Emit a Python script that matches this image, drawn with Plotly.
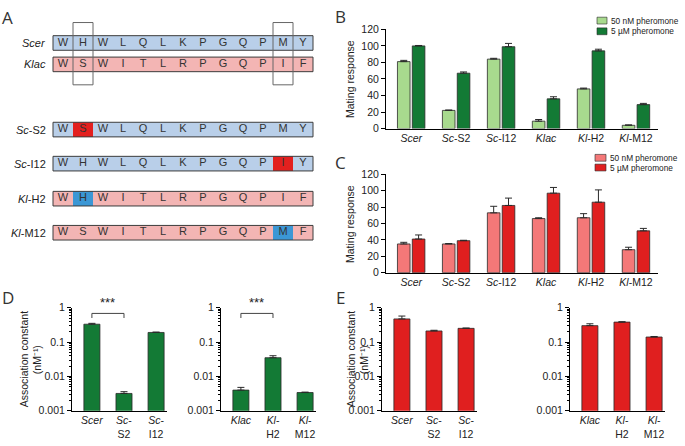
import plotly.graph_objects as go

W, H = 685, 446

# ---------------- data ----------------
# Panel A: peptide sequences
row_names = ["Scer", "Klac", "Sc-S2", "Sc-I12", "Kl-H2", "Kl-M12"]
seq_scer = list("WHWLQLKPGQPMY")
seq_klac = list("WSWITLRPGQPIF")
seq_sc_s2 = list("WSWLQLKPGQPMY")
seq_sc_i12 = list("WHWLQLKPGQPIY")
seq_kl_h2 = list("WHWITLRPGQPIF")
seq_kl_m12 = list("WSWITLRPGQPMF")
boxed_positions = [2, 12]  # 1-based residues that differ

# Panels B/C: mating response
strains = ["Scer", "Sc-S2", "Sc-I12", "Klac", "Kl-H2", "Kl-M12"]
legend_labels = ["50 nM pheromone", "5 µM pheromone"]
b_low = [81, 22, 84, 9, 48, 4]
b_low_err = [1.5, 0.5, 1, 2, 1, 0.5]
b_high = [100, 67, 99, 36, 94, 29]
b_high_err = [0.5, 1.5, 4, 2.5, 2, 1.5]
c_low = [35, 35, 73, 66, 67, 28]
c_low_err = [2, 0.5, 8, 1, 5, 3]
c_high = [41, 39, 82, 97, 86, 51]
c_high_err = [5, 0.5, 9, 7, 15, 3]

# Panels D/E: association constants (nM^-1)
sc_strains = ["Scer", "Sc-S2", "Sc-I12"]
kl_strains = ["Klac", "Kl-H2", "Kl-M12"]
d_sc = [0.33, 0.0032, 0.19]
d_sc_err = [0.02, 0.0004, 0.005]
d_kl = [0.004, 0.035, 0.0034]
d_kl_err = [0.0008, 0.005, 0.0001]
e_sc = [0.47, 0.21, 0.25]
e_sc_err = [0.1, 0.01, 0.005]
e_kl = [0.30, 0.38, 0.14]
e_kl_err = [0.04, 0.01, 0.005]
sig_label = "***"

# ---------------- style ----------------
FONT = "Liberation Sans, Arial, sans-serif"
LETTER_FONT = "Open Sans, sans-serif"
TXT = "#222222"
OUT = "#2a2a2a"
G_LIGHT = "#a8da8e"
G_DARK = "#137a35"
R_LIGHT = "#f47878"
R_DARK = "#e01f1f"
SC_ROW = "#b9cfe9"
KL_ROW = "#f3b5b4"
SC_HI = "#3b97d5"
KL_HI = "#e3201f"


def fmt(name, wrap=False):
    if "-" in name:
        pre, post = name.split("-")
        return f"<i>{pre}</i>-" + ("<br>" if wrap else "") + post
    return f"<i>{name}</i>"


def xd(a, b):
    return [a / W, b / W]


def yd(top, bottom):
    return [1 - bottom / H, 1 - top / H]


def px(x):
    return x / W


def py(y):
    return 1 - y / H


fig = go.Figure()

# ---------------- panels B / C ----------------
cat_bc = [fmt(s) for s in strains]


def err(arr):
    return dict(type="data", array=arr, arrayminus=[0] * len(arr), symmetric=False,
                color=OUT, thickness=1, width=3.5)


for (lo, lo_e, hi, hi_e, cl, ch, xa, ya) in [
    (b_low, b_low_err, b_high, b_high_err, G_LIGHT, G_DARK, "x", "y"),
    (c_low, c_low_err, c_high, c_high_err, R_LIGHT, R_DARK, "x2", "y2"),
]:
    fig.add_trace(go.Bar(x=cat_bc, y=lo, name=legend_labels[0], showlegend=False,
                         marker=dict(color=cl, line=dict(color=OUT, width=0.8)),
                         error_y=err(lo_e), xaxis=xa, yaxis=ya))
    fig.add_trace(go.Bar(x=cat_bc, y=hi, name=legend_labels[1], showlegend=False,
                         marker=dict(color=ch, line=dict(color=OUT, width=0.8)),
                         error_y=err(hi_e), xaxis=xa, yaxis=ya))

# ---------------- panels D / E ----------------
for (cats, vals, errs, col, xa, ya) in [
    (sc_strains, d_sc, d_sc_err, G_DARK, "x3", "y3"),
    (kl_strains, d_kl, d_kl_err, G_DARK, "x4", "y4"),
    (sc_strains, e_sc, e_sc_err, R_DARK, "x5", "y5"),
    (kl_strains, e_kl, e_kl_err, R_DARK, "x6", "y6"),
]:
    fig.add_trace(go.Bar(x=[fmt(c, True) for c in cats], y=vals, width=0.5, showlegend=False,
                         marker=dict(color=col, line=dict(color=OUT, width=0.8)),
                         error_y=err(errs), xaxis=xa, yaxis=ya))

# significance brackets (D)
for cats, xa, ya in [(sc_strains, "x3", "y3"), (kl_strains, "x4", "y4")]:
    c0, c1 = fmt(cats[0], True), fmt(cats[1], True)
    fig.add_trace(go.Scatter(x=[c0, c0, c1, c1], y=[0.5, 0.68, 0.68, 0.5], mode="lines",
                             line=dict(color="#444", width=1), cliponaxis=False,
                             showlegend=False, hoverinfo="skip", xaxis=xa, yaxis=ya))
    fig.add_annotation(x=0.5, y=py(305), xref=xa, yref="paper", text=sig_label,
                       showarrow=False, xanchor="center", yanchor="middle",
                       font=dict(family=FONT, size=13, color=TXT))

# ---------------- panel A ----------------
seqs = [seq_scer, seq_klac, seq_sc_s2, seq_sc_i12, seq_kl_h2, seq_kl_m12]
parents = [None, None, seq_scer, seq_scer, seq_klac, seq_klac]
row_y = [38, 60, 127, 162, 198, 233]
row_h = 15
shapes = []
for name, seq, parent, yc in zip(row_names, seqs, parents, row_y):
    is_sc = name.startswith("Sc")
    fill = SC_ROW if is_sc else KL_ROW
    hi = KL_HI if is_sc else SC_HI
    y0, y1 = yc - row_h / 2, yc + row_h / 2
    shapes.append(dict(type="rect", xref="x7", yref="y7", x0=0, x1=len(seq), y0=y0, y1=y1,
                       fillcolor=fill, line=dict(width=0), layer="below"))
    if parent is not None:
        for i, (a, b) in enumerate(zip(seq, parent)):
            if a != b:
                shapes.append(dict(type="rect", xref="x7", yref="y7", x0=i, x1=i + 1, y0=y0, y1=y1,
                                   fillcolor=hi, line=dict(width=0), layer="below"))
    shapes.append(dict(type="rect", xref="x7", yref="y7", x0=0, x1=len(seq), y0=y0, y1=y1,
                       fillcolor="rgba(0,0,0,0)", line=dict(color="#3c3c3c", width=1)))
    fig.add_trace(go.Scatter(x=[i + 0.5 for i in range(len(seq))], y=[yc] * len(seq), text=seq,
                             mode="text", textfont=dict(family=FONT, size=11, color="#333"),
                             showlegend=False, hoverinfo="skip", xaxis="x7", yaxis="y7"))
    fig.add_annotation(x=px(48), y=yc, xref="paper", yref="y7", text=fmt(name), showarrow=False,
                       xanchor="right", yanchor="middle",
                       font=dict(family=FONT, size=11, color=TXT))

for p in boxed_positions:
    shapes.append(dict(type="rect", xref="x7", yref="y7", x0=p - 1, x1=p, y0=17, y1=81,
                       fillcolor="rgba(0,0,0,0)", line=dict(color="#666", width=1)))

# ---------------- manual legends ----------------
for (x0, x1, ys, cols) in [(597, 607, [15, 26], [G_LIGHT, G_DARK]),
                           (595, 606, [156, 166], [R_LIGHT, R_DARK])]:
    for lab, yc, col in zip(legend_labels, ys, cols):
        shapes.append(dict(type="rect", xref="paper", yref="paper", x0=px(x0), x1=px(x1),
                           y0=py(yc + 3.5), y1=py(yc - 3.5), fillcolor=col,
                           line=dict(color=OUT, width=0.6)))
        fig.add_annotation(x=px(x1 + 2), y=py(yc), xref="paper", yref="paper", text=lab,
                           showarrow=False, xanchor="left", yanchor="middle",
                           font=dict(family=FONT, size=8.3, color=TXT))

# ---------------- axis titles & panel letters ----------------
unit = "(nM\u207b\u00b9)"
for txt, x, y, fs in [("Mating response", 350, 75, 10.5), ("Mating response", 350, 224, 10.5),
                      ("Association constant", 24, 363, 10.5), (unit, 37, 364, 10.5),
                      ("Association constant", 351, 363, 10.5), (unit, 364, 364, 10.5)]:
    fig.add_annotation(x=px(x), y=py(y), xref="paper", yref="paper", text=txt, textangle=-90,
                       showarrow=False, xanchor="center", yanchor="middle",
                       font=dict(family=FONT, size=fs, color=TXT))

for letter, x, y in [("A", 8, 12), ("B", 340, 11), ("C", 340, 161), ("D", 8, 300), ("E", 340, 300)]:
    fig.add_annotation(x=px(x), y=py(y), xref="paper", yref="paper", text=letter, showarrow=False,
                       xanchor="center", yanchor="middle",
                       font=dict(family=LETTER_FONT, size=17, color="#333"))

# ---------------- axes ----------------
tickfont = dict(family=FONT, size=10.5, color=TXT)
common_x = dict(showline=True, linecolor="black", linewidth=1, ticks="", showgrid=False,
                zeroline=False, tickfont=tickfont, fixedrange=True)
lin_y = dict(showline=True, linecolor="black", linewidth=1, ticks="outside", ticklen=4,
             tickcolor="black", showgrid=False, zeroline=False, range=[0, 120],
             tickvals=[0, 20, 40, 60, 80, 100, 120], tickfont=tickfont, fixedrange=True)
minor_vals = [k * 10 ** e for e in (-3, -2, -1) for k in range(2, 10)]
log_y = dict(type="log", range=[-3, 0], showline=True, linecolor="black", linewidth=1,
             ticks="outside", ticklen=4, tickcolor="black", showgrid=False, zeroline=False,
             tickvals=[0.001, 0.01, 0.1, 1], ticktext=["0.001", "0.01", "0.1", "1"],
             tickfont=tickfont, fixedrange=True,
             minor=dict(ticks="outside", ticklen=2, tickcolor="black", tickvals=minor_vals))

bc_range = [-0.56, 5.49]
de_range = [-0.62, 2.34]

fig.update_layout(
    width=W, height=H, margin=dict(l=0, r=0, t=0, b=0),
    paper_bgcolor="white", plot_bgcolor="white",
    barmode="group", bargap=0.34, bargroupgap=0.15,
    showlegend=False, shapes=shapes, hovermode=False,
    xaxis=dict(domain=xd(386, 658), range=bc_range, anchor="y", **common_x),
    yaxis=dict(domain=yd(24, 126), anchor="x", **lin_y),
    xaxis2=dict(domain=xd(386, 658), range=bc_range, anchor="y2", **common_x),
    yaxis2=dict(domain=yd(173, 274), anchor="x2", **lin_y),
    xaxis3=dict(domain=xd(72, 167), range=de_range, anchor="y3", **common_x),
    yaxis3=dict(domain=yd(310, 416), anchor="x3", **log_y),
    xaxis4=dict(domain=xd(221, 316), range=de_range, anchor="y4", **common_x),
    yaxis4=dict(domain=yd(310, 416), anchor="x4", **log_y),
    xaxis5=dict(domain=xd(382, 477), range=de_range, anchor="y5", **common_x),
    yaxis5=dict(domain=yd(310, 416), anchor="x5", **log_y),
    xaxis6=dict(domain=xd(570, 665), range=de_range, anchor="y6", **common_x),
    yaxis6=dict(domain=yd(310, 416), anchor="x6", **log_y),
    xaxis7=dict(domain=xd(50, 316), range=[-0.15, 13.15], anchor="y7", visible=False,
                fixedrange=True),
    yaxis7=dict(domain=yd(10, 300), range=[300, 10], anchor="x7", visible=False,
                fixedrange=True),
)

# the default page body has an 8px margin; remove it so the figure fills the window
fig.write_html("out.html", config={"displayModeBar": False},
               post_script="document.body.style.margin='0px';")
